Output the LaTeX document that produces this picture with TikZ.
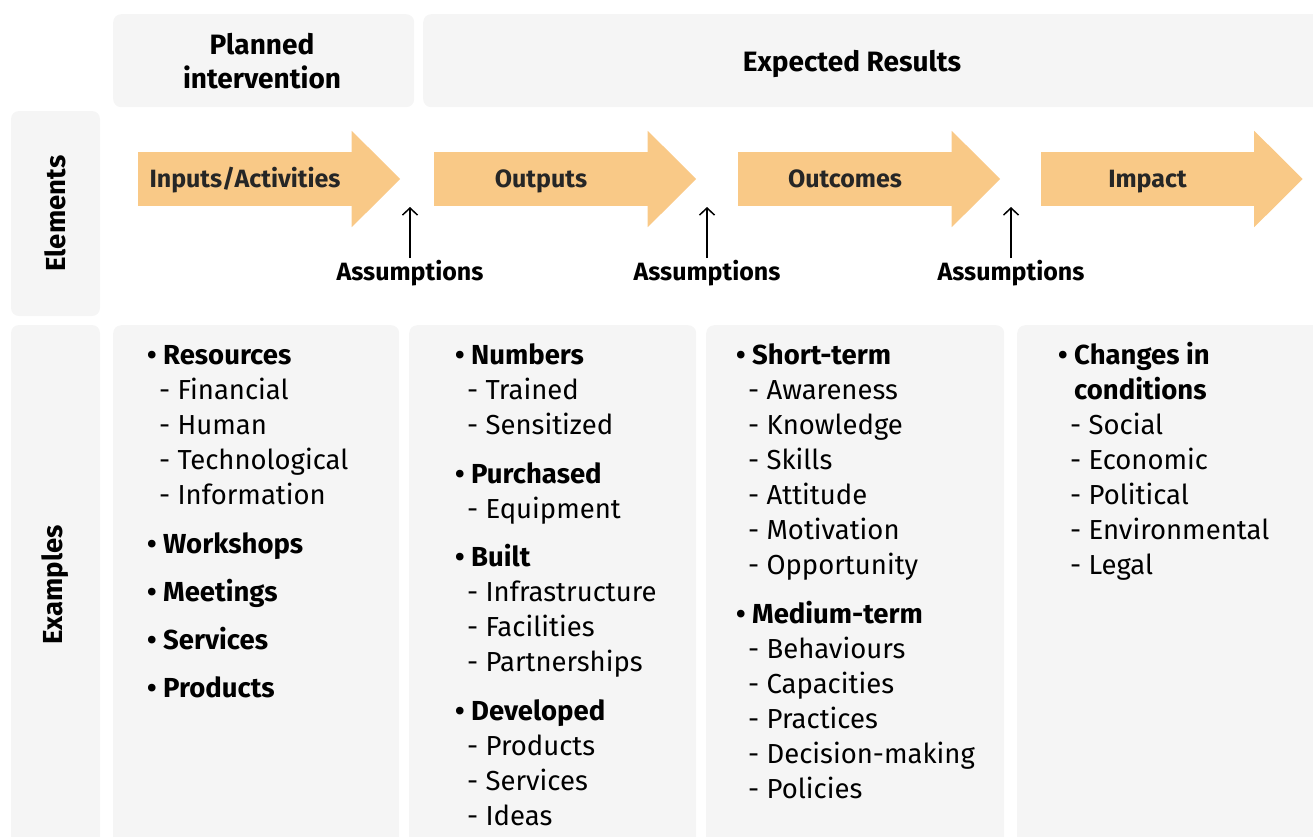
\documentclass[tikz,border=0pt]{standalone}
\usepackage{fontspec}
\setmainfont{Fira Sans}
\usetikzlibrary{arrows.meta,positioning}
\definecolor{panelgray}{HTML}{F5F5F5}
\definecolor{flowfill}{HTML}{F9C987}
\definecolor{flowtext}{HTML}{262626}
% list lines of the example columns
\newcommand{\lmhead}[1]{\makebox[16pt][l]{\textbf{\textbullet}}\textbf{#1}}
\newcommand{\lmsub}[1]{\hspace*{12pt}- #1}

\begin{document}
\begin{tikzpicture}[x=1pt, y=-1pt,
    panel/.style={fill=panelgray, rounded corners=8pt, inner sep=0pt},
    flow/.style={fill=flowfill, minimum width=214pt, minimum height=54pt, inner sep=0pt, text=flowtext, text height=17.5pt, text depth=0pt, font=\fontsize{25}{28}\selectfont\bfseries},
    asm/.style={font=\fontsize{25}{28}\selectfont\bfseries, inner sep=0pt, text height=17.5pt, text depth=0pt},
    hdtext/.style={font=\fontsize{28}{34}\selectfont\bfseries, align=center},
    rowlabel/.style={panel, rotate=90, minimum height=89pt, font=\fontsize{27.5}{30}\selectfont\bfseries},
    listcol/.style={anchor=north west, inner sep=0pt, align=left, font=\fontsize{27.5}{35}\selectfont},
    assumparrow/.style={-{Straight Barb[length=7pt,width=15pt]}, line width=1.5pt}]
    \useasboundingbox (0,0) rectangle (1313,836);

    % header row
    \node[panel, anchor=north west, minimum width=301pt, minimum height=93pt] (planhd) at (113,14) {};
    \node[hdtext] (plantxt) at (262,61) {Planned\\intervention};
    \node[panel, anchor=north west, minimum width=902pt, minimum height=93pt] (reshd) at (423,14) {};
    \node[hdtext] (restxt) at (852,64) {Expected Results};

    % row labels
    \node[rowlabel, minimum width=205pt] (elem) at (55.5,213.5) {Elements};
    \node[rowlabel, minimum width=520pt] (exam) at (55.5,585) {Examples};

    % results chain
    \node[flow] (inp) at (245,179) {Inputs/Activities};
    \node[flow] (outp) at (541,179) {Outputs};
    \node[flow] (outc) at (845,179) {Outcomes};
    \node[flow] (imp) at (1147.5,179) {Impact};
    \foreach \f in {inp,outp,outc,imp}
        \fill[flowfill] ([xshift=-0.5pt,yshift=21pt]\f.north east) -- ([xshift=48pt]\f.east) -- ([xshift=-0.5pt,yshift=-21pt]\f.south east) -- cycle;

    % assumptions
    \node[asm] (asm1) at (410,271.5) {Assumptions};
    \node[asm] (asm2) at (707,271.5) {Assumptions};
    \node[asm] (asm3) at (1011,271.5) {Assumptions};
    \coordinate (tip1) at (410,207);
    \coordinate (tip2) at (707,207);
    \coordinate (tip3) at (1011,207);
    \draw[assumparrow] ([yshift=4.5pt]asm1.north) -- (tip1);
    \draw[assumparrow] ([yshift=4.5pt]asm2.north) -- (tip2);
    \draw[assumparrow] ([yshift=4.5pt]asm3.north) -- (tip3);

    % example columns
    \node[panel, anchor=north west, minimum width=286pt, minimum height=520pt] (col1) at (113,325) {};
    \node[panel, anchor=north west, minimum width=287pt, minimum height=520pt] (col2) at (409,325) {};
    \node[panel, anchor=north west, minimum width=298pt, minimum height=520pt] (col3) at (706,325) {};
    \node[panel, anchor=north west, minimum width=310pt, minimum height=520pt] (col4) at (1017,325) {};

    \node[listcol] (list1) at (147,339.5) {\strut\lmhead{Resources}\\
        \lmsub{Financial}\\ \lmsub{Human}\\ \lmsub{Technological}\\ \lmsub{Information}\\[14pt]
        \lmhead{Workshops}\\[13pt] \lmhead{Meetings}\\[13pt] \lmhead{Services}\\[13pt] \lmhead{Products}};
    \node[listcol] (list2) at (455,339.5) {\strut\lmhead{Numbers}\\
        \lmsub{Trained}\\ \lmsub{Sensitized}\\[14pt]
        \lmhead{Purchased}\\ \lmsub{Equipment}\\[13pt]
        \lmhead{Built}\\ \lmsub{Infrastructure}\\ \lmsub{Facilities}\\ \lmsub{Partnerships}\\[14pt]
        \lmhead{Developed}\\ \lmsub{Products}\\ \lmsub{Services}\\ \lmsub{Ideas}};
    \node[listcol] (list3) at (736,339.5) {\strut\lmhead{Short-term}\\
        \lmsub{Awareness}\\ \lmsub{Knowledge}\\ \lmsub{Skills}\\ \lmsub{Attitude}\\ \lmsub{Motivation}\\ \lmsub{Opportunity}\\[14pt]
        \lmhead{Medium-term}\\ \lmsub{Behaviours}\\ \lmsub{Capacities}\\ \lmsub{Practices}\\ \lmsub{Decision-making}\\ \lmsub{Policies}};
    \node[listcol] (list4) at (1058,339.5) {\strut\lmhead{Changes in}\\ \hspace*{16pt}\textbf{conditions}\\
        \lmsub{Social}\\ \lmsub{Economic}\\ \lmsub{Political}\\ \lmsub{Environmental}\\ \lmsub{Legal}};
\end{tikzpicture}
\end{document}
